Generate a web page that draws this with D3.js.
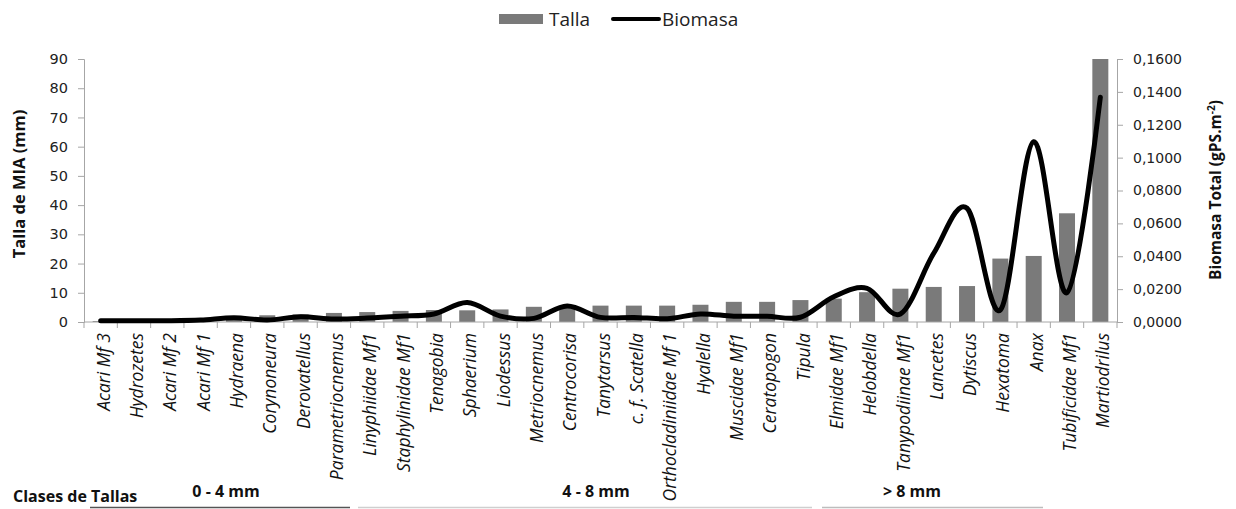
<!DOCTYPE html>
<html><head><meta charset="utf-8">
<script src="https://cdn.jsdelivr.net/npm/d3@7"></script>
<style>
body{margin:0;background:#fff;}
svg{display:block;}
</style></head>
<body>
<svg id="chart" width="1236" height="509"></svg>
<script>
const categories = ["Acari Mf 3","Hydrozetes","Acari Mf 2","Acari Mf 1","Hydraena","Corynoneura","Derovatellus","Parametriocnemus","Linyphiidae Mf1","Staphylinidae Mf1","Tenagobia","Sphaerium","Liodessus","Metriocnemus","Centrocorisa","Tanytarsus","c. f. Scatella","Orthocladiniidae Mf 1","Hyalella","Muscidae Mf1","Ceratopogon","Tipula","Elmidae Mf1","Helobdella","Tanypodiinae Mf1","Lancetes","Dytiscus","Hexatoma","Anax","Tubificidae Mf1","Martiodrilus"];
const talla = [0.3,0.4,0.5,0.6,1.2,2.3,2.6,3.1,3.4,3.8,4.1,4.0,4.3,5.2,5.5,5.6,5.6,5.6,5.9,6.9,6.9,7.5,8.0,10.2,11.4,12.0,12.3,21.7,22.6,37.2,90];
const biomasa = [0.0008,0.0008,0.0008,0.0012,0.0026,0.0012,0.0032,0.0018,0.0024,0.0035,0.0049,0.0118,0.0036,0.0022,0.0097,0.0028,0.0028,0.0020,0.0049,0.0035,0.0035,0.0029,0.0154,0.0205,0.0049,0.0418,0.0692,0.0073,0.1097,0.0178,0.1367];
const leftTicks = [0,10,20,30,40,50,60,70,80,90];
const rightTicks = [0,0.02,0.04,0.06,0.08,0.10,0.12,0.14,0.16];
const classes = [
  {label:"0 - 4 mm", from:"Acari Mf 3", to:"Staphylinidae Mf1"},
  {label:"4 - 8 mm", from:"Tenagobia", to:"Elmidae Mf1"},
  {label:"> 8 mm", from:"Helobdella", to:"Martiodrilus"}
];

const svg = d3.select("#chart");
const L = 84, R = 1117, T = 59, B = 322;
const x = d3.scaleBand().domain(categories).range([L, R]).padding(0);
const yL = d3.scaleLinear().domain([0,90]).range([B, T]);
const yR = d3.scaleLinear().domain([0,0.16]).range([B, T]);
const axisColor = "#a6a6a6";
const numFont = "DejaVu Sans, sans-serif";
const txtFont = "'Open Sans', sans-serif";

// bars
const bw = x.bandwidth()*0.48;
svg.append("g").selectAll("rect").data(categories).join("rect")
  .attr("x", (d)=> x(d) + x.bandwidth()/2 - bw/2)
  .attr("y", (d,i)=> yL(talla[i]))
  .attr("width", bw)
  .attr("height", (d,i)=> B - yL(talla[i]))
  .attr("fill", "#7a7a7a");

// left axis
const gl = svg.append("g").attr("transform", `translate(${L},0)`)
  .call(d3.axisLeft(yL).tickValues(leftTicks).tickSize(6).tickPadding(10).tickFormat(d3.format("d")));
gl.selectAll("path,line").attr("stroke", axisColor);
gl.selectAll("text").attr("font-family", numFont).attr("font-size", 14.5).attr("fill", "#222");

// right axis
const fmtR = (v)=> v.toFixed(4).replace(".", ",");
const gr = svg.append("g").attr("transform", `translate(${R},0)`)
  .call(d3.axisRight(yR).tickValues(rightTicks).tickSize(6).tickPadding(10).tickFormat(fmtR));
gr.selectAll("path,line").attr("stroke", axisColor);
gr.selectAll("text").attr("font-family", numFont).attr("font-size", 14).attr("fill", "#222");

// bottom axis
const gb = svg.append("g").attr("transform", `translate(0,${B})`);
gb.append("line").attr("x1", L).attr("x2", R).attr("y1",0).attr("y2",0).attr("stroke", axisColor);
gb.selectAll("line.tk").data(categories.concat(["__end"])).join("line").attr("class","tk")
  .attr("x1", (d)=> d==="__end" ? R : x(d)).attr("x2", (d)=> d==="__end" ? R : x(d))
  .attr("y1", 0).attr("y2", 6).attr("stroke", axisColor);
gb.selectAll("text").data(categories).join("text")
  .attr("transform", (d)=> `translate(${x(d)+x.bandwidth()/2+3},11) rotate(-90)`)
  .attr("text-anchor", "end").attr("dy", "0.35em")
  .attr("font-family", txtFont).attr("font-style", "italic").attr("font-size", 17.5)
  .attr("fill", "#111").text((d)=>d);

// line
const line = d3.line()
  .x((d,i)=> x(categories[i]) + x.bandwidth()/2)
  .y((d)=> yR(d))
  .curve(d3.curveCardinal.tension(0));
svg.append("path").datum(biomasa).attr("d", line)
  .attr("fill", "none").attr("stroke", "#000").attr("stroke-width", 5)
  .attr("stroke-linejoin", "round").attr("stroke-linecap", "round");

// axis titles
svg.append("text").attr("transform", `translate(25,${184}) rotate(-90)`)
  .attr("text-anchor", "middle").attr("font-family", txtFont).attr("font-weight", "bold")
  .attr("font-size", 16.5).attr("fill", "#111").text("Talla de MIA (mm)");
const rt = svg.append("text").attr("transform", `translate(1221,${190}) rotate(-90)`)
  .attr("text-anchor", "middle").attr("font-family", txtFont).attr("font-weight", "bold")
  .attr("font-size", 15.5).attr("fill", "#111");
rt.append("tspan").text("Biomasa Total (gPS.m");
rt.append("tspan").attr("font-size", 10).attr("dy", "-0.6em").text("-2");
rt.append("tspan").attr("dy", "0.4em").text(")");

// legend
const lg = svg.append("g");
lg.append("rect").attr("x", 499).attr("y", 14).attr("width", 44).attr("height", 10).attr("fill", "#7a7a7a");
lg.append("text").attr("x", 549).attr("y", 26).attr("font-family", txtFont).attr("font-size", 19).attr("fill","#222").text("Talla");
lg.append("line").attr("x1", 613).attr("x2", 659).attr("y1", 19).attr("y2", 19).attr("stroke", "#000").attr("stroke-width", 4).attr("stroke-linecap","round");
lg.append("text").attr("x", 662).attr("y", 26).attr("font-family", txtFont).attr("font-size", 19).attr("fill","#222").text("Biomasa");

// size classes
svg.append("text").attr("x", 13).attr("y", 502).attr("font-family", txtFont).attr("font-weight", "bold")
  .attr("font-size", 16).attr("fill", "#111").text("Clases de Tallas");
const classX = [226, 596, 912];
svg.selectAll("text.cls").data(classes).join("text").attr("class","cls")
  .attr("x", (d,i)=> classX[i]).attr("y", 497).attr("text-anchor","middle")
  .attr("font-family", txtFont).attr("font-weight", "bold").attr("font-size", 16).attr("fill", "#111")
  .text((d)=>d.label);
const segs = [[90,350,"#555"],[358,812,"#cfcfcf"],[822,1043,"#bdbdbd"]];
svg.selectAll("line.seg").data(segs).join("line").attr("class","seg")
  .attr("x1",(d)=>d[0]).attr("x2",(d)=>d[1]).attr("y1",507.5).attr("y2",507.5)
  .attr("stroke",(d)=>d[2]).attr("stroke-width",1.5);
</script>
</body></html>
